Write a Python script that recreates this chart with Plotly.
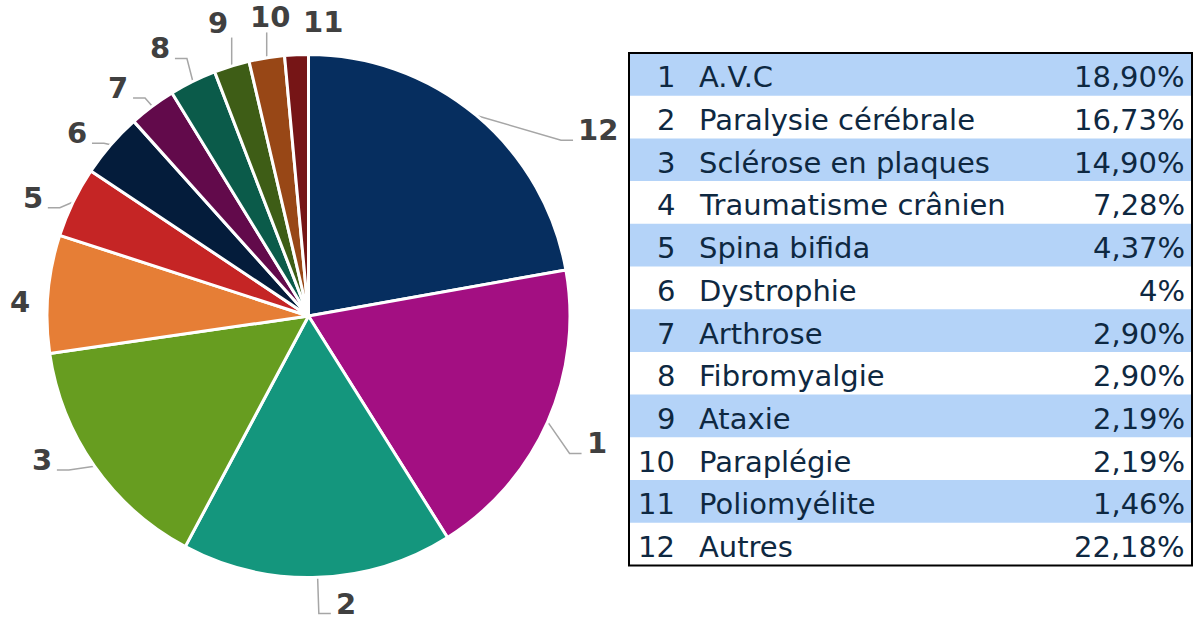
import math
import plotly.graph_objects as go

# ---------------- data ----------------
numbers = [1, 2, 3, 4, 5, 6, 7, 8, 9, 10, 11, 12]
names = ["A.V.C", "Paralysie cérébrale", "Sclérose en plaques", "Traumatisme crânien",
         "Spina bifida", "Dystrophie", "Arthrose", "Fibromyalgie", "Ataxie",
         "Paraplégie", "Poliomyélite", "Autres"]
values = [18.90, 16.73, 14.90, 7.28, 4.37, 4.00, 2.90, 2.90, 2.19, 2.19, 1.46, 22.18]
pct_labels = ["18,90%", "16,73%", "14,90%", "7,28%", "4,37%", "4%", "2,90%", "2,90%",
              "2,19%", "2,19%", "1,46%", "22,18%"]

# ---------------- style ----------------
W, H = 1196, 625
colors = {1: "#a30f82", 2: "#14967d", 3: "#679d20", 4: "#e67e36", 5: "#c52525",
          6: "#041c3b", 7: "#620a4b", 8: "#0b5b4a", 9: "#3e5d16", 10: "#984716",
          11: "#761516", 12: "#062e5f"}
cx, cy, r = 308.5, 316.0, 261.5          # pie centre / radius in pixels
label_radius = {1: 315, 2: 290, 3: 303, 4: 289, 5: 300, 6: 295, 7: 297, 8: 306,
                9: 307, 10: 301, 11: 294, 12: 344}
label_nudge = {1: 0, 2: -5.4, 3: 6.7, 4: -2.1, 5: -2.6, 6: -2.6, 7: -3.2, 8: -2.8,
               9: 0, 10: 1.9, 11: 5.4, 12: 17.4}
no_leader = {4, 11}
label_color = "#404040"
leader_color = "#a6a6a6"
text_color = "#0e2841"
row_fill = "#b4d3f8"
tbl_x0, tbl_x1, tbl_y0, row_h = 629, 1192, 53, 42.7

# pie order: "Autres" (12) first, then 1..11, clockwise from 12 o'clock
order = [12] + numbers[:-1]
pie_vals = [values[n - 1] for n in order]
pie_cols = [colors[n] for n in order]

fig = go.Figure()
fig.add_trace(go.Pie(
    values=pie_vals, labels=[str(n) for n in order], sort=False,
    direction="clockwise", rotation=0, textinfo="none", hoverinfo="label+percent",
    marker=dict(colors=pie_cols, line=dict(color="white", width=3)),
    domain=dict(x=[(cx - r) / W, (cx + r) / W], y=[(H - cy - r) / H, (H - cy + r) / H]),
    showlegend=False,
))

# label + leader-line geometry derived from the slice angles
total = sum(pie_vals)
annotations = []
cum = 0.0
for n, v in zip(order, pie_vals):
    mid = (cum + v / 2) / total * 360.0
    cum += v
    a = math.radians(mid)
    ax_, ay_ = cx + r * math.sin(a), cy - r * math.cos(a)
    la = math.radians(mid + label_nudge[n])
    R = label_radius[n]
    lx, ly = cx + R * math.sin(la), cy - R * math.cos(la)
    annotations.append(dict(x=lx, y=ly, xref="x", yref="y", text=f"<b>{n}</b>",
                            showarrow=False, xanchor="center", yanchor="middle",
                            font=dict(family="DejaVu Sans", size=29, color=label_color)))
    if n in no_leader:
        continue
    hw = 10 * len(str(n))
    if abs(lx - ax_) < hw + 12:
        py = ly + 15 if ly < ay_ else ly - 15
        xs, ys = [ax_, ax_], [py, ay_]
    else:
        side = 1 if lx > ax_ else -1
        px, py = lx - side * (hw + 5), ly + 10
        ex = px - side * 12
        xs, ys = [px, ex, ax_], [py, py, ay_]
    fig.add_trace(go.Scatter(x=xs, y=ys, mode="lines", hoverinfo="skip", showlegend=False,
                             line=dict(color=leader_color, width=1.5)))

# table
shapes = []
for i, n in enumerate(numbers):
    y0 = tbl_y0 + i * row_h
    yc = y0 + row_h / 2 + 3
    if i % 2 == 0:
        shapes.append(dict(type="rect", xref="x", yref="y", x0=tbl_x0, x1=tbl_x1,
                           y0=y0, y1=y0 + row_h, fillcolor=row_fill, line=dict(width=0),
                           layer="below"))
    f = dict(family="DejaVu Sans", size=29, color=text_color)
    annotations.append(dict(x=677, y=yc, xref="x", yref="y", text=str(n), showarrow=False,
                            xanchor="right", yanchor="middle", font=f))
    annotations.append(dict(x=697, y=yc, xref="x", yref="y", text=names[i], showarrow=False,
                            xanchor="left", yanchor="middle", font=f))
    annotations.append(dict(x=1187, y=yc, xref="x", yref="y", text=pct_labels[i],
                            showarrow=False, xanchor="right", yanchor="middle", font=f))
shapes.append(dict(type="rect", xref="x", yref="y", x0=tbl_x0, x1=tbl_x1, y0=tbl_y0,
                   y1=tbl_y0 + row_h * len(numbers), line=dict(color="black", width=2),
                   fillcolor="rgba(0,0,0,0)"))

fig.update_layout(
    width=W, height=H, margin=dict(l=0, r=0, t=0, b=0),
    paper_bgcolor="white", plot_bgcolor="rgba(0,0,0,0)",
    xaxis=dict(range=[0, W], visible=False, fixedrange=True),
    yaxis=dict(range=[H, 0], visible=False, fixedrange=True),
    shapes=shapes, annotations=annotations, showlegend=False,
)
fig.write_html("out.html", config={"displayModeBar": False},
               post_script="document.body.style.margin='0';")
